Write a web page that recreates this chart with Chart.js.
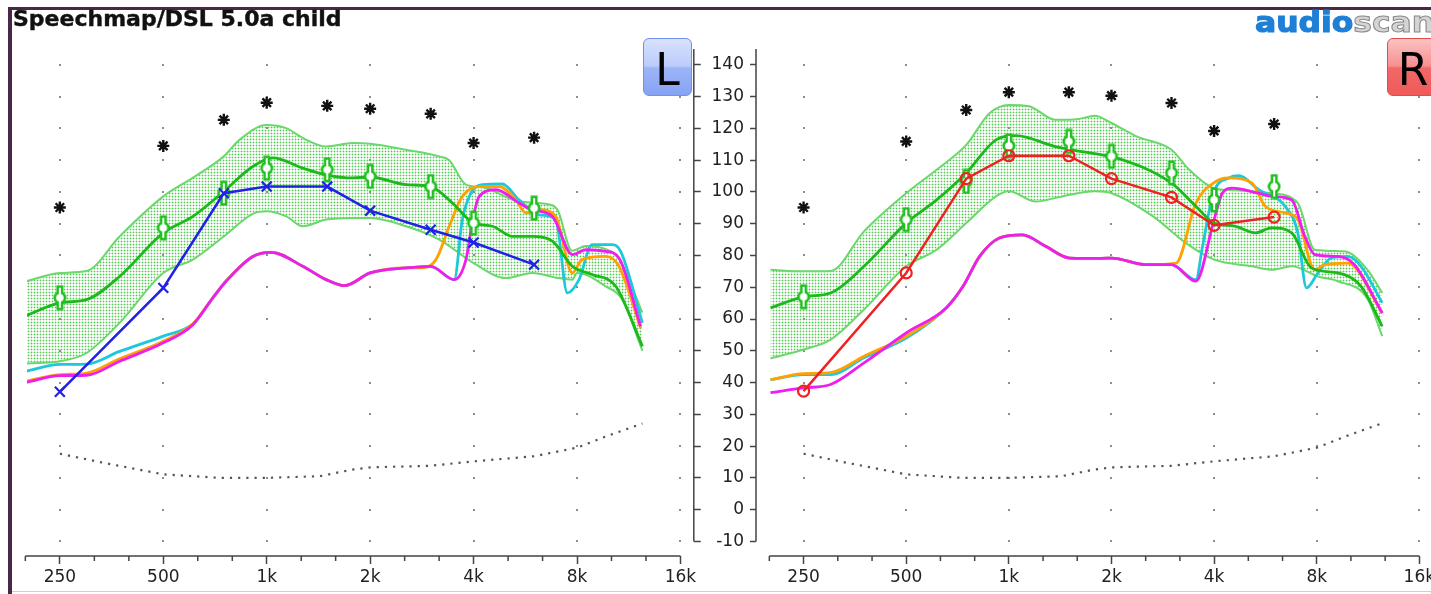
<!DOCTYPE html>
<html>
<head>
<meta charset="utf-8">
<script src="https://cdn.jsdelivr.net/npm/chart.js@4.4.1/dist/chart.umd.min.js"></script>
<style>
html, body { margin: 0; padding: 0; background: #fff; overflow: hidden; }
#page { position: relative; width: 1431px; height: 594px; overflow: hidden; background: #fff; }
canvas { position: absolute; top: 0; }
#cl { left: 0; width: 703px; height: 594px; }
#cr { left: 700px; width: 773px; height: 594px; }
.topbar { position: absolute; left: 8px; top: 7px; width: 1423px; height: 3px; background: #4a2746; }
.leftbar { position: absolute; left: 8px; top: 7px; width: 4px; height: 587px; background: #4a2746; }
.bottombar { position: absolute; left: 12px; top: 591px; width: 1419px; height: 1px; background: #cfcfcf; }
.title { position: absolute; left: 13px; top: 8px; font: bold 22px "DejaVu Sans"; line-height: 22px; color: #111; white-space: nowrap; -webkit-text-stroke: 0.4px #111; }
.logo { position: absolute; left: 1255px; top: 6px; font: bold 28px "DejaVu Sans"; transform: scaleX(1.12); transform-origin: 0 0; white-space: nowrap; }
.logo .a { color: #1e7fd6; -webkit-text-stroke: 1.2px #1e7fd6; }
.logo .s { color: #d4d4d4; -webkit-text-stroke: 1px #8a8a8a; }
.btn { position: absolute; top: 38px; height: 58px; border-radius: 6px; box-sizing: border-box; font: 44px "DejaVu Sans"; line-height: 62px; text-align: center; color: #000; }
.btnL { left: 643px; width: 49px; border: 1px solid #6e90ee; background: linear-gradient(#d8e2fd 0%, #bccbfa 48%, #9db4f7 52%, #86a3f4 100%); }
.btnR { left: 1387px; width: 52px; border: 1px solid #e04c4c; background: linear-gradient(#fbc2c2 0%, #f79090 48%, #f26868 52%, #f05a5a 100%); }
</style>
</head>
<body>
<div id="page">
  <canvas id="cl" width="703" height="594"></canvas>
  <canvas id="cr" width="773" height="594"></canvas>
  <div class="topbar"></div>
  <div class="leftbar"></div>
  <div class="bottombar"></div>
  <div class="title">Speechmap/DSL 5.0a child</div>
  <div class="logo"><span class="a">audio</span><span class="s">scan</span></div>
  <div class="btn btnL">L</div>
  <div class="btn btnR">R</div>
</div>
<script>
// axis ticks
const X_TICK_FREQS = [250, 500, 1000, 2000, 4000, 8000, 16000];
const X_TICK_LABELS = ['250', '500', '1k', '2k', '4k', '8k', '16k'];
const X_MINOR = [198.4, 315, 397, 630, 794, 1260, 1587, 2520, 3175, 5040, 6350, 10079, 12699];
const Y_TICKS = [-10, 0, 10, 20, 30, 40, 50, 60, 70, 80, 90, 100, 110, 120, 130, 140];

// audiometric frequencies for targets / measurements
const TARGET_FREQS = [250, 500, 750, 1000, 1500, 2000, 3000, 4000, 6000];

// left ear
const L_TARGETS = [66.7, 88.7, 99.6, 107.5, 107, 104.9, 101.7, 90.2, 94.9];
const L_UCL = [95.1, 114.5, 122.7, 128.1, 127.1, 126.2, 124.6, 115.4, 117.1];
const L_MEASURED = [37.1, 69.8, 99.6, 101.7, 101.7, 94.1, 88.1, 84.1, 77.1];
const L_UPPER = [[200,71.9],[250,74.5],[299,75.1],[373,86],[500,98.6],[610,104.5],[750,111.2],[833,116.4],[1000,121.1],[1139,120.1],[1273,117],[1489,114.3],[1779,115.4],[2000,115.2],[2544,113.3],[3178,111.2],[3397,110],[3800,102.3],[4240,101.5],[5427,97],[6768,95.8],[7047,94],[7737,81.5],[8480,83],[9692,82],[10595,79],[12400,62]];
const L_LOWER = [[200,46],[250,46.7],[299,49.3],[373,58.8],[500,74.5],[610,78.7],[750,86],[911,93.1],[1000,93.9],[1139,92.3],[1273,89.2],[1489,91.3],[1779,91.8],[2000,91.8],[2544,89.2],[3178,85],[4000,77.6],[4965,72.9],[5922,74.5],[7047,72.9],[7750,72.4],[8000,74.5],[9692,70.3],[10800,66.3],[12400,50]];
const L_TARGET_LINE = [[200,61.1],[250,65.1],[299,66.1],[373,73.4],[500,87.1],[610,92.3],[750,100.2],[911,108],[1042,110.7],[1273,107.5],[1489,105.4],[1779,104.4],[2000,104.7],[2544,102.3],[3000,101.7],[3473,96.5],[4000,90.2],[4539,89.2],[5190,86],[5922,86],[6783,84.5],[7750,76.6],[8845,74],[10368,70.3],[12400,51.4]];
const L_CYAN = [[200,43.6],[250,45.7],[299,45.8],[373,49.8],[500,54.6],[610,58.5],[696,66.6],[762,72],[911,79.7],[1030,81],[1273,76.6],[1489,72.4],[1683,70.5],[2000,74.5],[2544,76.1],[3000,76.6],[3512,72.4],[3710,91.3],[3928,99.6],[4240,102.3],[4843,102.5],[5427,97.5],[6203,92.8],[6937,91.3],[7497,68.2],[8108,72.4],[8845,83.4],[10140,83.4],[10715,81.3],[12400,58.8]];
const L_ORANGE = [[200,40.5],[250,42.5],[299,43],[373,47.5],[500,53],[610,58.5],[696,66.6],[762,72],[911,79.7],[1030,81],[1273,76.6],[1489,72.4],[1683,70.5],[2000,74.5],[2544,76.1],[2780,76.1],[3108,78.7],[3397,89.2],[3710,98.6],[4153,101.7],[4748,101.7],[5310,97.5],[5676,93.4],[6203,94.4],[6937,92.3],[7750,74.5],[8272,78.7],[9692,79.7],[10595,76.6],[12253,57.1]];
const L_MAGENTA = [[200,40.1],[250,42.2],[299,42.3],[373,46.7],[500,52.5],[610,58.2],[696,66.6],[762,71.9],[911,79.7],[1030,81],[1273,76.6],[1489,72.4],[1683,70.5],[2000,74.5],[2544,76.1],[3000,76.6],[3512,72.4],[3800,78.7],[3990,92],[4153,98.6],[4644,100.7],[5427,96.5],[5922,94.4],[6783,92.3],[7750,80.3],[8480,81.8],[9692,81.3],[10595,79.2],[12253,57.7]];

// right ear
const R_TARGETS = [67, 91.3, 103.3, 114.5, 115.9, 111.2, 106, 97.5, 101.7];
const R_UCL = [95.1, 115.9, 125.8, 131.4, 131.4, 130.3, 128, 119.2, 121.4];
const R_MEASURED = [37.3, 74.5, 104.2, 111.4, 111.4, 104.2, 98.3, 89.5, 92.1];
const R_UPPER = [[200,75.5],[250,75],[300,75.1],[376,87.6],[500,99.6],[614,107],[750,114.8],[878,124.8],[1000,127.4],[1147,127],[1368,122.7],[1603,123],[1788,124],[2000,121.7],[2368,117.5],[3000,113.3],[3383,107],[4000,101.2],[4622,100.5],[5900,99.6],[7040,96.5],[7893,81.8],[9627,81.3],[11275,75.5],[12450,68.2]];
const R_LOWER = [[200,47.6],[250,50.4],[300,53.5],[376,63],[500,76.6],[614,81.8],[750,90.2],[917,98.6],[1000,100.2],[1199,97],[1433,98.6],[1788,100.2],[2000,99.6],[2648,92.3],[3308,83.9],[4000,78.7],[5168,76.6],[5930,75.5],[6754,76.6],[8070,73.4],[9226,71.9],[11275,66.3],[12450,54.6]];
const R_TARGET_LINE = [[200,63.5],[250,67],[300,68.2],[376,76.6],[500,90.2],[614,97.5],[750,106],[917,116.4],[1049,117.7],[1368,114.3],[1873,111.7],[2000,111.2],[3000,102.8],[3537,95.5],[4000,90.2],[4622,89.2],[5284,87.1],[5900,88.7],[6754,87.1],[7720,76.1],[9226,74.5],[10792,70.3],[12450,57.7]];
const R_CYAN = [[200,40.9],[250,42.5],[300,42.5],[376,47.8],[500,54],[655,63.5],[734,70.3],[821,79.7],[938,85.5],[1097,86.5],[1282,82.9],[1509,79.2],[1873,79.1],[2000,79.2],[2531,77.1],[3000,77.1],[3537,72.4],[3700,82.9],[3980,99.6],[4420,104.4],[4726,105.1],[5403,100.7],[6458,95.5],[7040,87.1],[7467,69.8],[8070,74.5],[8828,79.2],[9864,79.7],[10792,76.6],[12450,65.1]];
const R_ORANGE = [[200,40.9],[250,42.8],[300,43.1],[376,48.3],[500,54.6],[655,63.5],[734,70.3],[821,79.7],[938,85.5],[1097,86.5],[1282,82.9],[1509,79.2],[1873,79.1],[2000,79.2],[2531,77.1],[3093,77.6],[3537,96.5],[3980,102.8],[4420,104.4],[5168,102.8],[5650,95.5],[6458,93.4],[7040,91.3],[7893,75.5],[8440,77.1],[9864,77.6],[12450,61.9]];
const R_MAGENTA = [[200,36.8],[250,38.3],[300,39.4],[376,46.2],[500,55.6],[655,63.5],[734,70.3],[821,79.7],[938,85.5],[1097,86.5],[1282,82.9],[1509,79.2],[1873,79.1],[2000,79.2],[2531,77.1],[3000,77.1],[3537,71.9],[4000,91.3],[4228,99.6],[4520,101.2],[5403,99.6],[5930,98.6],[6754,97.5],[7383,86],[7893,80.3],[9226,79.7],[10318,77.1],[12450,61.9]];

// dotted floor line (same on both sides)
const NOISE_FLOOR = [[250,17.6],[333,14.8],[500,11.1],[729,10],[1000,10],[1424,10.5],[1775,12.6],[2000,13.3],[3000,13.8],[4000,15.2],[6000,16.8],[8000,19.5],[9692,23],[12400,27.1]];

Chart.defaults.font.family = 'DejaVu Sans';
Chart.defaults.color = '#222';

const AXIS = '#444';
const BAND_EDGE = '#6ad86a';

function pairs(arr) { return arr.map(p => ({ x: p[0], y: p[1] })); }
function atTargets(vals) { return TARGET_FREQS.map((f, i) => ({ x: f, y: vals[i] })); }

function dotTile() {
    const c = document.createElement('canvas');
    c.width = 3; c.height = 3;
    const g = c.getContext('2d');
    g.fillStyle = 'rgba(70,200,70,0.3)';
    g.fillRect(0, 1, 3, 1);
    g.fillRect(1, 0, 1, 3);
    g.fillStyle = '#4ccb4c';
    g.fillRect(1, 1, 1, 1);
    return c;
}

function targetIcon() {
    const c = document.createElement('canvas');
    c.width = 14; c.height = 26;
    const g = c.getContext('2d');
    g.fillStyle = '#20c020';
    g.fillRect(3.5, 0.5, 7, 25);
    g.beginPath(); g.arc(7, 13, 6.5, 0, Math.PI * 2); g.fill();
    g.fillStyle = '#ffffff';
    g.fillRect(6, 3, 2, 20);
    g.beginPath(); g.arc(7, 13, 3.8, 0, Math.PI * 2); g.fill();
    return c;
}

// grid dots, x axis line with minor ticks, middle vertical axis line
const panelPlugin = {
    id: 'panel',
    beforeDatasetsDraw(chart, args, opts) {
        const { ctx, scales: { x, y } } = chart;
        ctx.save();
        ctx.fillStyle = '#8e8e8e';
        X_TICK_FREQS.forEach(f => {
            const px = Math.round(x.getPixelForValue(f));
            Y_TICKS.forEach(v => {
                const py = Math.round(y.getPixelForValue(v));
                ctx.fillRect(px - 1, py - 1, 2, 2);
            });
        });
        ctx.restore();
    },
    afterDraw(chart, args, opts) {
        const { ctx, chartArea, scales: { x, y } } = chart;
        ctx.save();
        ctx.strokeStyle = AXIS;
        ctx.lineWidth = 1.5;
        const yb = chartArea.bottom;
        ctx.beginPath();
        ctx.moveTo(x.getPixelForValue(X_MINOR[0]), yb);
        ctx.lineTo(x.getPixelForValue(16000), yb);
        X_MINOR.forEach(f => {
            const px = x.getPixelForValue(f);
            ctx.moveTo(px, yb);
            ctx.lineTo(px, yb + 5);
        });
        const ax = opts.side === 'left' ? chartArea.right : chartArea.left;
        ctx.moveTo(ax, y.getPixelForValue(145));
        ctx.lineTo(ax, y.getPixelForValue(-10));
        ctx.stroke();
        ctx.restore();
    }
};

function makePanel(id, side, s) {
    const canvas = document.getElementById(id);
    const ctx = canvas.getContext('2d');
    const band = ctx.createPattern(dotTile(), 'repeat');
    const curve = (data, color, width, order, extra) => Object.assign({
        data: pairs(data), borderColor: color, borderWidth: width, pointRadius: 0,
        cubicInterpolationMode: 'monotone', fill: false, order: order
    }, extra || {});

    const datasets = [
        curve(s.upper, BAND_EDGE, 2, 10, { fill: '+1', backgroundColor: band }),
        curve(s.lower, BAND_EDGE, 2, 9),
        curve(s.cyan, '#1ec8dc', 2.8, 8),
        curve(s.orange, '#ffa200', 2.8, 7),
        curve(s.magenta, '#ee1eee', 2.8, 6),
        curve(s.target, '#1cb81c', 2.8, 5),
        curve(NOISE_FLOOR, '#555', 2.2, 4, { borderDash: [2.2, 6], cubicInterpolationMode: 'default', tension: 0 }),
        {
            data: atTargets(s.targets), showLine: false, pointStyle: targetIcon(),
            pointRadius: 8, order: 3
        },
        {
            data: atTargets(s.measured), borderColor: s.color, borderWidth: 2.5, tension: 0,
            pointStyle: s.marker, pointRadius: s.marker === 'circle' ? 5.5 : 7,
            pointBorderColor: s.color, pointBorderWidth: 2.2,
            pointBackgroundColor: 'rgba(255,255,255,0)', order: 2
        },
        {
            data: atTargets(s.ucl), showLine: false, pointStyle: 'star', pointRadius: 6,
            pointBorderColor: '#111', pointBorderWidth: 2.4, order: 1
        }
    ];

    const xRange = side === 'left' ? [200.6, 17496] : [181.3, 21630];

    return new Chart(canvas, {
        type: 'line',
        data: { datasets: datasets },
        plugins: [panelPlugin],
        options: {
            responsive: false,
            animation: false,
            events: [],
            layout: { padding: side === 'left' ? { left: 27, top: 49, right: 0, bottom: 0 } : { left: 0, top: 49, right: 3, bottom: 0 } },
            plugins: { legend: { display: false }, tooltip: { enabled: false }, panel: { side: side } },
            scales: {
                x: {
                    type: 'logarithmic',
                    min: xRange[0],
                    max: xRange[1],
                    afterBuildTicks: sc => {
                        sc.ticks = X_MINOR.concat(X_TICK_FREQS).sort((a, b) => a - b).map(v => ({ value: v }));
                    },
                    afterFit: sc => { sc.height = 38; },
                    border: { display: false },
                    grid: {
                        drawOnChartArea: false, drawTicks: true, tickLength: 8, tickWidth: 1.5,
                        tickColor: c => (c.tick && X_TICK_FREQS.includes(c.tick.value)) ? AXIS : 'rgba(0,0,0,0)'
                    },
                    ticks: {
                        autoSkip: false, maxRotation: 0, minRotation: 0, padding: 3,
                        color: '#222', font: { size: 17 },
                        callback: v => {
                            const i = X_TICK_FREQS.indexOf(v);
                            return i >= 0 ? X_TICK_LABELS[i] : '';
                        }
                    }
                },
                y: {
                    position: side === 'left' ? 'right' : 'left',
                    min: -14.6,
                    max: 145,
                    afterBuildTicks: sc => { sc.ticks = Y_TICKS.map(v => ({ value: v })); },
                    afterFit: sc => { sc.width = side === 'left' ? 8 : 56; },
                    border: { display: false },
                    grid: { drawOnChartArea: false, drawTicks: true, tickLength: side === 'left' ? 7 : 6, tickWidth: 1.5, tickColor: AXIS },
                    ticks: {
                        display: side !== 'left', padding: 6, color: '#222', font: { size: 17 }
                    }
                }
            }
        }
    });
}

makePanel('cl', 'left', {
    upper: L_UPPER, lower: L_LOWER, target: L_TARGET_LINE,
    cyan: L_CYAN, orange: L_ORANGE, magenta: L_MAGENTA,
    targets: L_TARGETS, ucl: L_UCL, measured: L_MEASURED,
    color: '#2222e6', marker: 'crossRot'
});
makePanel('cr', 'right', {
    upper: R_UPPER, lower: R_LOWER, target: R_TARGET_LINE,
    cyan: R_CYAN, orange: R_ORANGE, magenta: R_MAGENTA,
    targets: R_TARGETS, ucl: R_UCL, measured: R_MEASURED,
    color: '#ee2222', marker: 'circle'
});
</script>
</body>
</html>
